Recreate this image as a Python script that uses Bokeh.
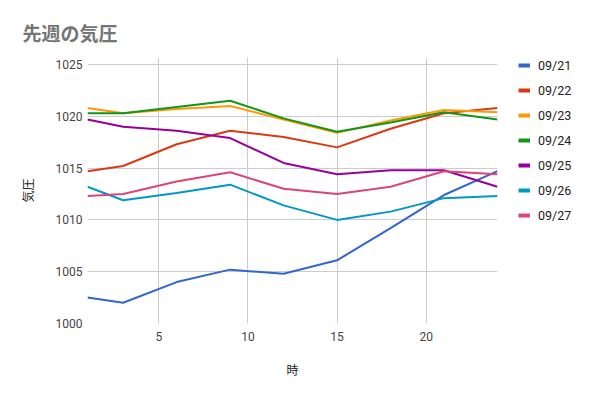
from bokeh.plotting import figure
from bokeh.layouts import row
from bokeh.models import Legend, LegendItem, FixedTicker, Range1d
from bokeh.embed import file_html
from bokeh.resources import INLINE

hours = [1, 3, 6, 9, 12, 15, 18, 21, 24]
d0921 = [1002.5, 1002.0, 1004.0, 1005.2, 1004.8, 1006.1, 1009.2, 1012.4, 1014.7]
d0922 = [1014.7, 1015.2, 1017.3, 1018.6, 1018.0, 1017.0, 1018.8, 1020.3, 1020.8]
d0923 = [1020.8, 1020.3, 1020.7, 1021.0, 1019.7, 1018.4, 1019.6, 1020.6, 1020.4]
d0924 = [1020.3, 1020.3, 1020.9, 1021.5, 1019.8, 1018.5, 1019.4, 1020.4, 1019.7]
d0925 = [1019.7, 1019.0, 1018.6, 1017.9, 1015.5, 1014.4, 1014.8, 1014.8, 1013.2]
d0926 = [1013.2, 1011.9, 1012.6, 1013.4, 1011.4, 1010.0, 1010.8, 1012.1, 1012.3]
d0927 = [1012.3, 1012.5, 1013.7, 1014.6, 1013.0, 1012.5, 1013.2, 1014.7, 1014.4]
series_names = ["09/21", "09/22", "09/23", "09/24", "09/25", "09/26", "09/27"]
series_vals = [d0921, d0922, d0923, d0924, d0925, d0926, d0927]
colors = ["#3366CC", "#DC3912", "#FF9900", "#109618", "#990099", "#0099C6", "#DD4477"]
x_ticks = [5, 10, 15, 20]
y_ticks = [1000, 1005, 1010, 1015, 1020, 1025]

# frame extends 7px above the 1025 line so the legend panel can start higher
p = figure(width=505, height=381, output_backend="svg", toolbar_location=None,
           x_range=Range1d(1, 24), y_range=Range1d(1000, 1025.676),
           min_border_left=87, min_border_right=8, min_border_top=57, min_border_bottom=58)
p.outline_line_color = None
p.background_fill_color = "white"
p.border_fill_color = "white"

for name, vals, c in zip(series_names, series_vals, colors):
    p.line(hours, vals, line_color=c, line_width=2)

# title
p.title.text = "先週の気圧"
p.title.text_font = "Noto Sans CJK JP"
p.title.text_font_size = "19px"
p.title.text_font_style = "bold"
p.title.text_color = "#757575"
p.title.align = "left"
p.title.offset = -65
p.title.standoff = 23

for ax in (p.xaxis[0], p.yaxis[0]):
    ax.axis_line_color = None
    ax.major_tick_line_color = None
    ax.minor_tick_line_color = None
    ax.major_tick_out = 0
    ax.major_tick_in = 0
    ax.minor_tick_out = 0
    ax.major_label_text_font = "Roboto"
    ax.major_label_text_font_size = "12px"
    ax.major_label_text_color = "#444444"
    ax.axis_label_text_font = "Noto Sans CJK JP"
    ax.axis_label_text_font_size = "12px"
    ax.axis_label_text_font_style = "normal"
    ax.axis_label_text_color = "#222222"

p.xaxis.ticker = FixedTicker(ticks=x_ticks)
p.yaxis.ticker = FixedTicker(ticks=y_ticks)
p.xaxis.axis_label = "時"
p.yaxis.axis_label = "気圧"
p.xaxis.major_label_standoff = 8
p.yaxis.major_label_standoff = 5
p.xaxis.axis_label_standoff = 17
p.yaxis.axis_label_standoff = 17

p.xgrid.grid_line_color = "#cccccc"
p.ygrid.grid_line_color = "#cccccc"

# legend panel (separate figure so it is not clipped); its lines fall outside its ranges
q = figure(width=70, height=381, output_backend="svg", toolbar_location=None,
           x_range=Range1d(100, 101), y_range=Range1d(0, 1),
           min_border_left=0, min_border_right=0, min_border_top=0, min_border_bottom=0)
q.axis.visible = False
q.grid.visible = False
q.outline_line_color = None
items = []
for name, vals, c in zip(series_names, series_vals, colors):
    r = q.line(hours, vals, line_color=c, line_width=4)
    items.append(LegendItem(label=name, renderers=[r]))

legend = Legend(items=items, location=(13, 100))
legend.border_line_color = None
legend.background_fill_alpha = 0
legend.padding = 0
legend.margin = 0
legend.glyph_width = 12
legend.glyph_height = 16
legend.label_height = 16
legend.spacing = 9
legend.label_standoff = 8
legend.label_text_font = "Roboto"
legend.label_text_font_size = "12.5px"
legend.label_text_color = "#222222"
q.add_layout(legend, "center")

layout = row(p, q, spacing=0)
open("out.html", "w").write(file_html(layout, INLINE))
